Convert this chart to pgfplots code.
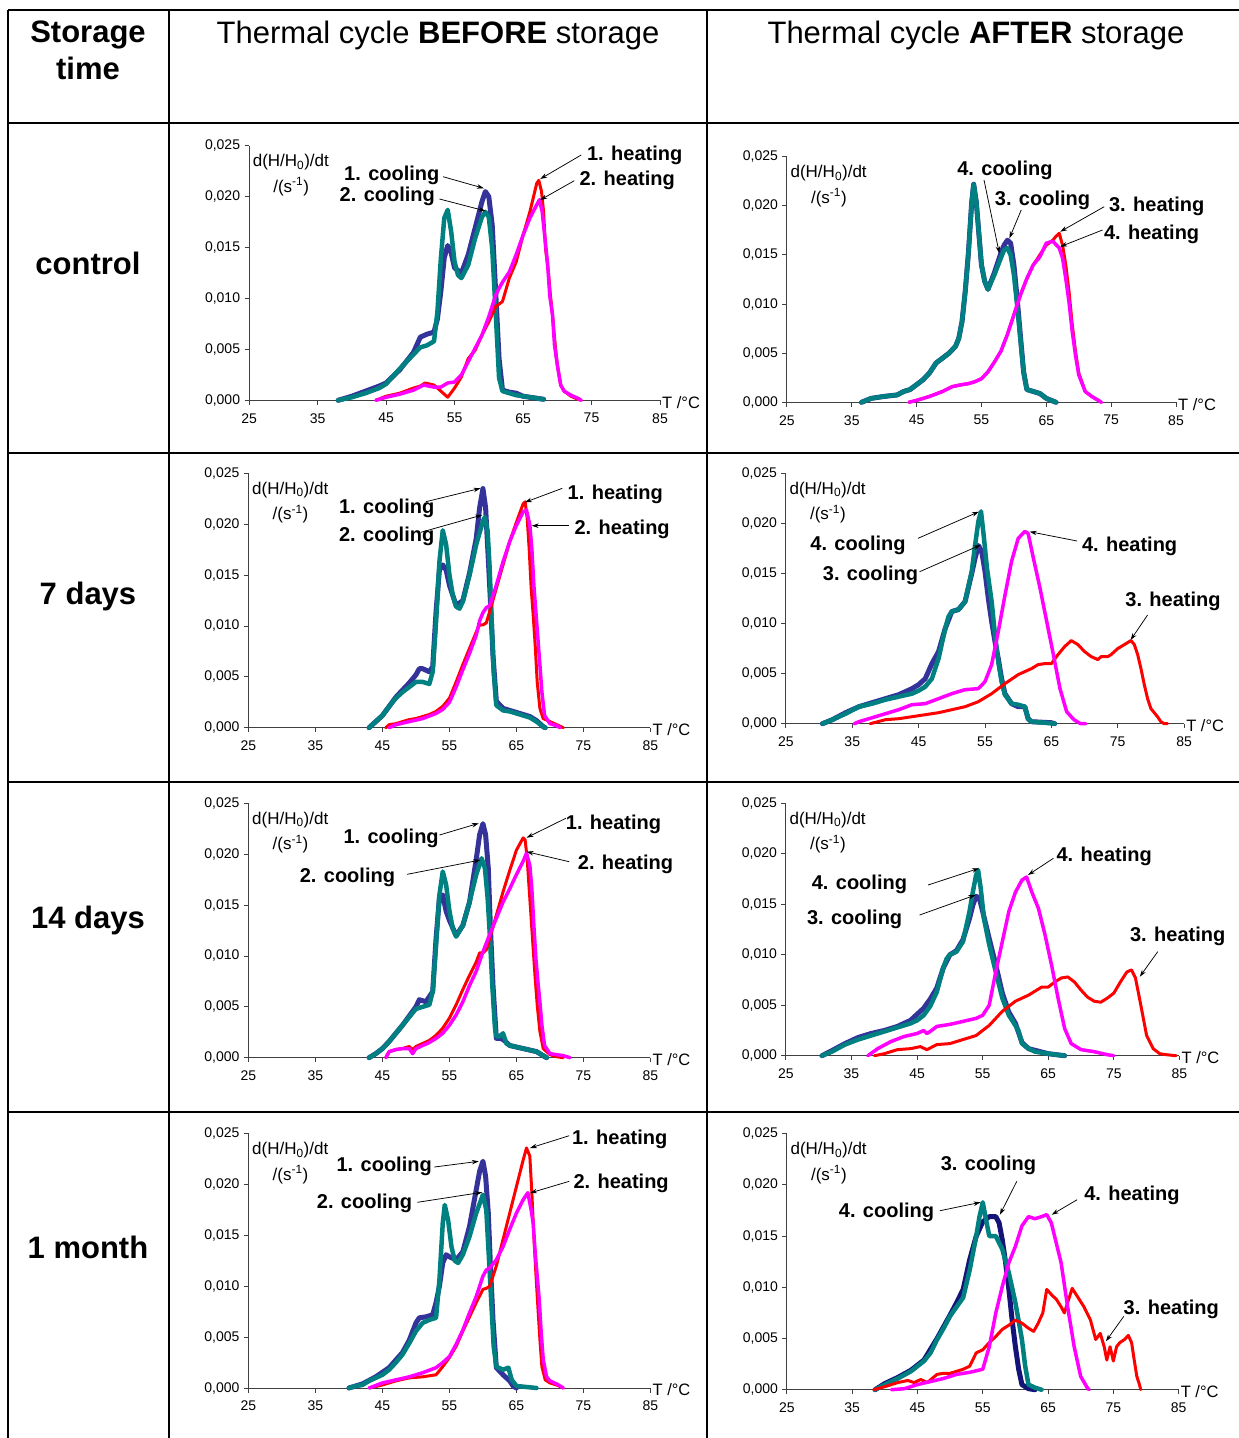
\documentclass[border=0pt]{standalone}
\usepackage{fontspec}
\setmainfont{Liberation Sans}
\usepackage{pgfplots}
\pgfplotsset{compat=1.18}
\usetikzlibrary{arrows.meta}
\definecolor{cblue}{RGB}{51,51,153}
\definecolor{cnavy}{RGB}{20,20,120}
\definecolor{cteal}{RGB}{0,128,128}
\definecolor{cred}{RGB}{255,0,0}
\definecolor{cmag}{RGB}{255,0,255}
\pgfplotsset{
  thermo/.style={
    scale only axis, anchor=south west, clip=false,
    xmin=25, xmax=85, ymin=0, ymax=0.025, enlargelimits=false,
    scaled y ticks=false, scaled x ticks=false,
    axis lines=left, axis line style={-, black!75, line width=0.9pt},
    xtick={25,35,45,55,65,75,85},
    xticklabels={25,35,45,55,65,75,85},
    ytick={0,0.005,0.01,0.015,0.02,0.025},
    yticklabels={{0,000},{0,005},{0,010},{0,015},{0,020},{0,025}},
    tick style={black!75, line width=0.9pt},
    major tick length=4.5pt, tick align=outside,
    tick label style={font=\fontsize{14}{16}\selectfont},
    xticklabel style={yshift=-5pt},
    yticklabel style={xshift=-1pt},
    every axis plot/.append style={no markers, line join=round, line cap=round},
  },
  c1/.style={cblue, line width=5pt},
  c1n/.style={cnavy, line width=5pt},
  c2/.style={cteal, line width=4.5pt},
  h1/.style={cred, line width=3pt},
  h2/.style={cmag, line width=3.5pt},
}
\newcommand{\labels}{%
  \node[anchor=west, inner sep=0pt, font=\fontsize{17}{19}\selectfont] at ([shift={(3.5pt,-16.5pt)}]rel axis cs:0,1) {d(H/H\textsubscript{0})/dt};
  \node[inner sep=0pt, font=\fontsize{17}{19}\selectfont] at ([shift={(42pt,-41pt)}]rel axis cs:0,1) {/(s\textsuperscript{-1})};
  \node[anchor=west, inner sep=0pt, font=\fontsize{16.5}{18}\selectfont] at ([shift={(2pt,-2pt)}]rel axis cs:1,0) {T /°C};
}
\newcommand{\ann}[3]{\node[font=\bfseries\fontsize{20}{24}\selectfont, inner sep=0pt] at (#1pt,-#2pt) {#3};}
\newcommand{\arr}[4]{\draw[-{Stealth[length=7pt,width=4.5pt]}, line width=0.75pt] (#1pt,-#2pt) -- (#3pt,-#4pt);}
\begin{document}
\begin{tikzpicture}
\path[use as bounding box] (0pt,0pt) rectangle (1239pt,-1438pt);
% ---- table grid
\begin{scope}[line width=1.5pt]
\draw (8pt,-10pt) -- (1239pt,-10pt);
\draw (8pt,-123pt) -- (1239pt,-123pt);
\draw (8pt,-453pt) -- (1239pt,-453pt);
\draw (8pt,-782pt) -- (1239pt,-782pt);
\draw (8pt,-1112pt) -- (1239pt,-1112pt);
\draw (8pt,-10pt) -- (8pt,-1438pt);
\draw (169pt,-10pt) -- (169pt,-1438pt);
\draw (707pt,-10pt) -- (707pt,-1438pt);
\end{scope}
% ---- headers
\node[anchor=base, font=\bfseries\fontsize{31}{36}\selectfont] at (88pt,-42pt) {Storage};
\node[anchor=base, font=\bfseries\fontsize{31}{36}\selectfont] at (88pt,-79pt) {time};
\node[anchor=base, font=\fontsize{31}{36}\selectfont] at (438pt,-43pt) {Thermal cycle \textbf{BEFORE} storage};
\node[anchor=base, font=\fontsize{31}{36}\selectfont] at (976pt,-43pt) {Thermal cycle \textbf{AFTER} storage};
\node[anchor=base, font=\bfseries\fontsize{31}{36}\selectfont] at (88pt,-274pt) {control};
\node[anchor=base, font=\bfseries\fontsize{31}{36}\selectfont] at (88pt,-604pt) {7 days};
\node[anchor=base, font=\bfseries\fontsize{31}{36}\selectfont] at (88pt,-928pt) {14 days};
\node[anchor=base, font=\bfseries\fontsize{31}{36}\selectfont] at (88pt,-1258pt) {1 month};

% ================= Plot 1: control, before
\begin{axis}[thermo, at={(249.1pt,-400.3pt)}, width=410.9pt, height=254.6pt]
\addplot[c1] coordinates {(38,0)(40,0.0004)(42,0.0009)(44,0.0014)(45,0.0017)(47,0.003)(49,0.0047)(50,0.0062)(51,0.0065)(52,0.0067)(52.5,0.008)(53,0.0107)(53.5,0.014)(54,0.0152)(54.5,0.0145)(55,0.013)(56,0.0125)(57,0.0143)(58,0.0169)(59,0.0195)(59.5,0.0205)(60,0.020)(60.5,0.0172)(61,0.0107)(61.5,0.0041)(62,0.001)(63,0.0008)(64,0.0007)(65,0.0004)(66,0.0003)(68,0.0001)};
\addplot[c2] coordinates {(38,0)(40,0.0003)(42,0.0007)(44,0.0012)(45,0.0016)(47,0.0031)(49,0.0045)(50,0.0052)(51,0.0054)(52,0.0058)(52.5,0.0087)(53,0.0139)(53.5,0.0179)(54,0.0187)(54.5,0.0166)(55,0.0136)(55.5,0.0123)(56,0.012)(57,0.0133)(58,0.0159)(59,0.018)(59.5,0.0185)(60,0.018)(60.5,0.0149)(61,0.0087)(61.5,0.0022)(62,0.0009)(63,0.0007)(64,0.0005)(65,0.0004)(66,0.0003)(68,0.0001)};
\addplot[h1] coordinates {(43.5,0)(45,0.0004)(47,0.0007)(49,0.0012)(50,0.0014)(50.7,0.0017)(52,0.0015)(53,0.0009)(54,0.0003)(55,0.0012)(56,0.0023)(57,0.0041)(58,0.0049)(59,0.0064)(60,0.0077)(61,0.0092)(62,0.0097)(63,0.012)(64,0.0136)(65,0.0162)(66,0.0185)(67,0.0213)(67.3,0.0216)(67.7,0.0205)(68,0.0185)(68.3,0.0148)(68.7,0.0126)(69,0.0103)(69.3,0.0084)(69.7,0.0054)(70,0.0035)(70.5,0.0015)(71,0.0009)(72,0.0004)(73,0.0001)(73.5,0)};
\addplot[h2] coordinates {(43.5,0)(45,0.0003)(47,0.0006)(49,0.001)(50.5,0.0015)(52,0.0013)(53,0.0013)(54,0.0017)(55,0.0018)(56,0.0025)(57,0.0038)(58,0.0051)(59,0.0064)(60,0.0082)(61,0.0103)(61.5,0.011)(62,0.0116)(63,0.0126)(64,0.0143)(65,0.0162)(66,0.0179)(67,0.0192)(67.4,0.0197)(67.8,0.0185)(68.2,0.0159)(68.6,0.0133)(68.9,0.0103)(69.3,0.0084)(69.6,0.0054)(70,0.0035)(70.5,0.0015)(71,0.0009)(72,0.0005)(73,0.0002)(73.5,0)};
\labels
\end{axis}

% ================= Plot 2: control, after
\begin{axis}[thermo, at={(786.9pt,-402.3pt)}, width=389.1pt, height=245.6pt]
\addplot[c1] coordinates {(36.5,0)(38,0.0004)(40,0.0006)(42,0.00075)(43,0.0011)(44,0.0013)(45,0.0018)(46,0.0023)(47,0.003)(48,0.004)(49,0.0045)(50,0.005)(51,0.0057)(51.5,0.0065)(52,0.0082)(52.5,0.0113)(53,0.0153)(53.5,0.0204)(53.8,0.0222)(54.2,0.0204)(54.5,0.018)(55,0.014)(55.5,0.0123)(56,0.0115)(57,0.0132)(58,0.0152)(58.5,0.016)(59,0.0165)(59.5,0.0162)(60,0.014)(60.5,0.0106)(61,0.0068)(61.5,0.0031)(62,0.0013)(63,0.0011)(64,0.0009)(65,0.0004)(66.5,0)};
\addplot[c2] coordinates {(36.5,0)(38,0.0004)(40,0.0006)(42,0.00075)(43,0.0011)(44,0.0013)(45,0.0018)(46,0.0023)(47,0.003)(48,0.004)(49,0.0045)(50,0.005)(51,0.0057)(51.5,0.0065)(52,0.0082)(52.5,0.0113)(53,0.0153)(53.5,0.0204)(53.8,0.0222)(54.2,0.0204)(54.5,0.018)(55,0.014)(55.5,0.0123)(56,0.0115)(57,0.013)(58,0.0147)(58.5,0.0155)(59,0.0157)(59.5,0.015)(60,0.013)(60.5,0.0099)(61,0.0065)(61.5,0.0031)(62,0.0013)(63,0.0011)(64,0.0009)(65,0.0004)(66.5,0)};
\addplot[h1] coordinates {(43.8,0)(45,0.0002)(47,0.0006)(49,0.0011)(50.5,0.0016)(52,0.0018)(53,0.0019)(54,0.0021)(55,0.0024)(56,0.0031)(57,0.0041)(58,0.0052)(59,0.0069)(60,0.0089)(61,0.0109)(62,0.0126)(63,0.014)(64,0.015)(65,0.016)(66,0.0165)(66.5,0.0169)(67,0.0172)(67.5,0.016)(68,0.014)(68.5,0.0113)(69,0.0079)(69.5,0.0052)(70,0.003)(71,0.0011)(72,0.0006)(73,0.0002)(73.5,0)};
\addplot[h2] coordinates {(43.8,0)(45,0.0002)(47,0.0006)(49,0.0011)(50.5,0.0016)(52,0.0018)(53,0.0019)(54,0.0021)(55,0.0024)(56,0.0031)(57,0.0041)(58,0.0052)(59,0.0069)(60,0.0089)(61,0.0109)(62,0.0126)(63,0.014)(64,0.0148)(65,0.0162)(66,0.0164)(67,0.0157)(67.5,0.0147)(68,0.0126)(68.5,0.0102)(69,0.0072)(69.5,0.0048)(70,0.0028)(71,0.0011)(72,0.0006)(73,0.0002)(73.5,0)};
\labels
\end{axis}

% ================= Plot 3: 7 days, before
\begin{axis}[thermo, at={(248.5pt,-727.7pt)}, width=401.9pt, height=254.4pt]
\addplot[c1] coordinates {(43,0)(44,0.0006)(45,0.0012)(46,0.0021)(47,0.003)(48,0.0037)(49,0.0044)(50,0.0052)(50.5,0.0058)(51,0.0058)(52,0.0055)(52.5,0.006)(53,0.0114)(53.5,0.0155)(54,0.016)(54.5,0.0155)(55,0.014)(56,0.012)(57,0.0125)(58,0.0152)(59,0.0186)(59.5,0.0216)(60,0.0235)(60.4,0.0216)(60.8,0.0166)(61.1,0.0127)(61.5,0.0071)(62,0.0026)(63,0.0019)(65,0.0015)(67,0.0011)(68,0.0007)(69,0.0001)(69.3,0)};
\addplot[c2] coordinates {(43,0)(44,0.0006)(45,0.0012)(46,0.0021)(47,0.0029)(48,0.0035)(49,0.004)(50,0.0045)(51,0.0045)(52,0.0043)(52.5,0.0055)(53,0.0104)(53.5,0.0163)(54,0.0194)(54.5,0.018)(55,0.015)(55.5,0.013)(56,0.0119)(56.5,0.0117)(57,0.0124)(58,0.015)(59,0.018)(60,0.0203)(60.3,0.0207)(60.7,0.0193)(61,0.0157)(61.3,0.0104)(61.6,0.0055)(62,0.0022)(63,0.0017)(64,0.0016)(65,0.0014)(66,0.0012)(67,0.001)(68,0.0006)(69,0.0001)(69.3,0)};
\addplot[h1] coordinates {(45.5,0)(46,0.0003)(47,0.0004)(48,0.0006)(49,0.0008)(50,0.0009)(51,0.0011)(52,0.0013)(53,0.0016)(54,0.0021)(55,0.0029)(56,0.0045)(57,0.0062)(58,0.0078)(59,0.0094)(59.5,0.0101)(60,0.0101)(60.5,0.0103)(61,0.0114)(62,0.0137)(63,0.016)(64,0.0183)(65,0.0202)(66,0.022)(66.3,0.0222)(66.6,0.0206)(66.9,0.0176)(67.2,0.0137)(67.5,0.0111)(67.8,0.0081)(68.1,0.0045)(68.5,0.0019)(69,0.0009)(70,0.0006)(71,0.0003)(72,0)};
\addplot[h2] coordinates {(46,0)(47,0.0003)(49,0.0006)(51,0.0009)(53,0.0014)(54,0.0018)(55,0.0025)(56,0.004)(57,0.0057)(58,0.0073)(59,0.0091)(59.5,0.0105)(60,0.0113)(60.5,0.0118)(61,0.012)(62,0.014)(63,0.0163)(64,0.0183)(65,0.0199)(66,0.0212)(66.5,0.0214)(67,0.0199)(67.3,0.0176)(67.6,0.014)(67.9,0.0114)(68.2,0.0088)(68.5,0.0062)(68.8,0.0035)(69.2,0.0012)(70,0.0004)(71,0.0002)(71.5,0)};
\labels
\end{axis}

% ================= Plot 4: 7 days, after
\begin{axis}[thermo, at={(785.9pt,-723.7pt)}, width=398.2pt, height=250.4pt]
\addplot[c1] coordinates {(30.5,0)(32,0.0004)(34,0.0011)(36,0.0017)(38,0.0021)(40,0.0025)(42,0.0029)(44,0.0035)(45,0.0039)(46,0.0045)(47,0.006)(48,0.0072)(49,0.0095)(50,0.0112)(51,0.0114)(52,0.0122)(53,0.015)(53.5,0.0165)(54,0.0178)(54.5,0.0172)(55,0.0152)(55.5,0.0125)(56,0.0102)(56.5,0.0082)(57,0.0065)(57.5,0.0045)(58,0.003)(59,0.002)(60,0.0017)(61,0.0017)(61.5,0.0005)(62,0.0002)(65,0.0001)(65.5,0)};
\addplot[c2] coordinates {(30.5,0)(32,0.0004)(34,0.001)(36,0.0017)(38,0.002)(40,0.0024)(42,0.0027)(44,0.003)(45,0.0033)(46,0.0037)(47,0.0045)(48,0.0065)(49,0.0095)(49.5,0.0107)(50,0.0112)(51,0.0114)(52,0.0122)(53,0.0152)(53.5,0.0178)(54,0.0202)(54.4,0.0212)(54.8,0.0188)(55.3,0.0155)(56,0.0122)(56.5,0.0089)(57,0.0062)(57.5,0.0042)(58,0.0029)(59,0.002)(60,0.0019)(61,0.0017)(61.5,0.0005)(62,0.0002)(64,0.0001)(65.5,0)};
\addplot[h1] coordinates {(37.7,0)(40,0.0004)(42,0.0005)(44,0.0007)(46,0.0009)(48,0.0011)(50,0.0014)(52,0.0017)(54,0.0022)(56,0.003)(58,0.004)(60,0.0049)(62,0.0055)(63,0.0059)(64,0.006)(65,0.006)(66,0.0069)(67,0.0077)(68,0.0083)(69,0.0079)(70,0.0072)(71,0.0067)(72,0.0064)(72.5,0.0067)(73.5,0.0067)(74,0.0069)(75,0.0075)(76,0.0079)(77,0.0083)(77.5,0.0079)(78,0.0069)(78.5,0.0055)(79,0.0039)(79.5,0.0025)(80,0.0015)(81,0.0007)(81.5,0.0002)(82,0)(82.5,0)};
\addplot[h2] coordinates {(35.3,0)(36,0.0002)(38,0.0006)(40,0.001)(42,0.0014)(44,0.0019)(46,0.002)(48,0.0025)(50,0.003)(52,0.0034)(54,0.0035)(55,0.0042)(56,0.0059)(57,0.0092)(58,0.0128)(59,0.0162)(60,0.0185)(61,0.0192)(61.5,0.019)(62.2,0.0168)(63.3,0.0135)(64.3,0.0102)(65.3,0.0069)(66.3,0.0035)(67.3,0.0012)(68.4,0.0004)(69.4,0)(70.2,0)};
\labels
\end{axis}

% ================= Plot 5: 14 days, before
\begin{axis}[thermo, at={(248.5pt,-1057.7pt)}, width=401.9pt, height=254.4pt]
\addplot[c1] coordinates {(43,0)(44,0.0004)(45,0.0009)(46,0.0016)(47,0.0024)(48,0.0032)(49,0.0041)(50,0.005)(50.5,0.0057)(51.5,0.0055)(52.5,0.0065)(53,0.0117)(53.5,0.0157)(54,0.016)(54.5,0.0144)(55,0.0135)(56,0.012)(57,0.013)(58,0.0153)(59,0.0195)(59.5,0.0219)(60,0.023)(60.4,0.0219)(60.8,0.0186)(61.1,0.013)(61.5,0.0071)(62,0.0019)(62.5,0.0019)(63,0.0018)(64,0.0012)(66,0.0009)(68,0.0006)(69,0.0002)(69.5,0)};
\addplot[c2] coordinates {(43,0)(44,0.0004)(45,0.0009)(46,0.0016)(47,0.0024)(48,0.0032)(49,0.004)(50,0.0048)(51,0.005)(52,0.0052)(52.5,0.0065)(53,0.0111)(53.5,0.016)(54,0.0183)(54.5,0.017)(55,0.0144)(55.5,0.0127)(56,0.0119)(57,0.013)(58,0.0153)(59,0.018)(59.8,0.0196)(60.3,0.0186)(60.7,0.0157)(61,0.0124)(61.4,0.0071)(61.8,0.0029)(62,0.0021)(62.5,0.0021)(63,0.0024)(63.5,0.0014)(64,0.0012)(66,0.0009)(68,0.0006)(69,0.0002)(69.5,0)};
\addplot[h1] coordinates {(45.5,0)(46,0.0006)(47,0.0008)(48,0.0009)(49,0.0011)(49.5,0.0008)(50,0.0011)(51,0.0014)(52,0.0017)(53,0.0022)(54,0.0029)(55,0.0039)(56,0.0052)(57,0.0067)(58,0.0081)(59,0.0094)(59.5,0.0103)(60,0.0103)(60.5,0.0106)(61,0.0117)(62,0.014)(63,0.0163)(64,0.0184)(65,0.0204)(66,0.0216)(66.3,0.0214)(66.6,0.0196)(66.9,0.0166)(67.2,0.0137)(67.5,0.0107)(67.8,0.0078)(68.1,0.0052)(68.5,0.0026)(69,0.0009)(70,0.0003)(71,0.0001)(72,0)};
\addplot[h2] coordinates {(45.5,0)(46,0.0006)(47,0.0008)(48,0.0009)(49,0.0009)(49.5,0.0004)(50,0.0009)(51,0.0012)(52,0.0015)(53,0.0019)(54,0.0024)(55,0.0032)(56,0.0042)(57,0.0055)(58,0.0071)(59,0.0085)(60,0.0104)(61,0.0121)(62,0.0137)(63,0.0153)(64,0.0166)(65,0.018)(66,0.0193)(66.5,0.0201)(67,0.0189)(67.3,0.0166)(67.6,0.013)(67.9,0.0098)(68.2,0.0075)(68.5,0.0055)(68.8,0.0032)(69.2,0.0012)(70,0.0004)(72,0.0002)(73,0)};
\labels
\end{axis}

% ================= Plot 6: 14 days, after
\begin{axis}[thermo, at={(785.9pt,-1055.7pt)}, width=393.5pt, height=252.4pt]
\addplot[c1] coordinates {(30.5,0)(32,0.0005)(34,0.0012)(36,0.0018)(38,0.0022)(40,0.0025)(42,0.0029)(44,0.0035)(46,0.0047)(47,0.0056)(48,0.0067)(49,0.0087)(50,0.01)(51,0.0104)(52,0.0115)(53,0.0136)(53.5,0.0149)(54,0.0158)(54.5,0.0156)(55,0.0143)(56,0.0116)(57,0.009)(58,0.0062)(59,0.0043)(60,0.0032)(61,0.0013)(62,0.0007)(65,0.0002)(67.5,0)};
\addplot[c2] coordinates {(30.5,0)(32,0.0004)(34,0.0011)(36,0.0016)(38,0.002)(40,0.0024)(42,0.0028)(44,0.0032)(45,0.0035)(46,0.004)(47,0.0049)(48,0.0063)(49,0.0087)(49.5,0.0096)(50,0.01)(51,0.0103)(52,0.0113)(53,0.0143)(53.5,0.0162)(54,0.0179)(54.3,0.0184)(54.7,0.0166)(55.2,0.0136)(56,0.011)(57,0.0083)(58,0.0057)(59,0.004)(60,0.003)(60.5,0.0024)(61,0.0012)(62,0.0007)(63,0.0004)(65,0.0002)(67.5,0)};
\addplot[h1] coordinates {(38.5,0)(40,0.0002)(42,0.0006)(44,0.0007)(45.5,0.0009)(46.5,0.0006)(48,0.0011)(50,0.0012)(52,0.0016)(54,0.002)(56,0.003)(58,0.0044)(60,0.0054)(62,0.006)(64,0.0068)(65,0.0068)(66,0.0073)(67,0.0077)(68,0.0078)(69,0.0073)(70,0.0065)(71,0.0058)(72,0.0054)(73,0.0053)(74,0.0057)(75,0.0062)(76,0.0073)(77,0.0083)(77.7,0.0085)(78.3,0.0077)(79,0.0054)(79.5,0.0037)(80,0.002)(81,0.0007)(82,0.0002)(83,0.0001)(84.5,0)};
\addplot[h2] coordinates {(37.5,0)(39,0.0007)(41,0.0014)(43,0.0019)(45,0.0022)(46,0.0025)(46.5,0.0022)(47,0.0024)(48,0.0029)(50,0.0031)(52,0.0034)(54,0.0037)(55,0.004)(56,0.005)(57,0.0083)(58,0.0113)(59,0.0143)(60,0.0162)(61,0.0174)(61.7,0.0177)(62.5,0.0162)(63.5,0.0146)(64.5,0.012)(65.5,0.009)(66.5,0.0057)(67.5,0.0027)(68.5,0.0012)(70,0.0006)(72,0.0004)(74,0.0001)(75,0)};
\labels
\end{axis}

% ================= Plot 7: 1 month, before
\begin{axis}[thermo, at={(248.5pt,-1388pt)}, width=401.9pt, height=254.3pt]
\addplot[c1] coordinates {(40,0)(42,0.0004)(44,0.0011)(46,0.002)(48,0.0035)(49,0.0047)(50,0.0064)(50.5,0.0069)(51.5,0.007)(52.5,0.0072)(53,0.0084)(53.5,0.01)(54,0.0123)(54.5,0.0131)(55,0.0129)(56,0.0126)(57,0.0134)(58,0.0159)(59,0.0195)(59.5,0.0213)(60,0.0223)(60.4,0.0208)(60.8,0.0172)(61.1,0.0123)(61.5,0.0067)(62,0.002)(63,0.0013)(64,0.0007)(64.5,0.0002)(65,0)};
\addplot[c2] coordinates {(40,0)(41,0.0002)(42,0.0003)(43,0.0007)(44,0.001)(45,0.0013)(46,0.0018)(47,0.0025)(48,0.0033)(49,0.0044)(50,0.0056)(51,0.0064)(52,0.0067)(53,0.0069)(53.5,0.0106)(54,0.0162)(54.3,0.018)(54.8,0.0165)(55.3,0.0139)(55.8,0.0125)(56.3,0.0123)(57,0.0131)(58,0.0149)(59,0.0172)(60,0.019)(60.5,0.0175)(60.8,0.0139)(61.2,0.009)(61.6,0.0041)(62,0.0021)(63,0.0018)(63.8,0.002)(64.3,0.0008)(65,0.0002)(68,0)};
\addplot[h1] coordinates {(43,0)(45,0.0003)(47,0.0007)(49,0.001)(51,0.0011)(53,0.0013)(54,0.0021)(55,0.003)(56,0.0041)(57,0.0056)(58,0.007)(59,0.0084)(60,0.0097)(60.5,0.0098)(61,0.01)(62,0.012)(63,0.0146)(64,0.0172)(65,0.0198)(66,0.0224)(66.5,0.0236)(67,0.0228)(67.3,0.0192)(67.6,0.0149)(67.9,0.0113)(68.2,0.008)(68.5,0.0048)(68.8,0.0021)(69.3,0.0008)(70,0.0005)(71,0.0003)(72,0)};
\addplot[h2] coordinates {(43,0)(45,0.0005)(47,0.0008)(49,0.0011)(51,0.0015)(53,0.002)(54,0.0025)(55,0.0031)(56,0.0043)(57,0.0057)(58,0.0074)(59,0.009)(60,0.011)(60.5,0.0116)(61,0.0118)(62,0.0126)(63,0.0139)(64,0.0156)(65,0.0172)(66,0.0185)(66.7,0.0192)(67.2,0.0175)(67.5,0.0162)(67.8,0.0133)(68.1,0.011)(68.4,0.0087)(68.7,0.0054)(69,0.0028)(69.5,0.0011)(70,0.0007)(71,0.0004)(72,0)};
\labels
\end{axis}

% ================= Plot 8: 1 month, after
\begin{axis}[thermo, at={(786.9pt,-1389.7pt)}, width=391.7pt, height=256pt]
\addplot[c1n] coordinates {(38.5,0)(40,0.0006)(42,0.0012)(44,0.0019)(46,0.0029)(48,0.005)(50,0.0073)(51,0.0085)(52,0.0098)(53,0.0127)(54,0.015)(55,0.0164)(56,0.0169)(57,0.0169)(57.5,0.0163)(58,0.0146)(58.5,0.0124)(59,0.0098)(59.5,0.0068)(60,0.0042)(60.5,0.002)(61,0.0005)(62,0.0001)(63,0)};
\addplot[c2] coordinates {(38.5,0)(40,0.0005)(42,0.0011)(44,0.0018)(46,0.0028)(47,0.0036)(48,0.0049)(49,0.006)(50,0.0072)(51,0.0081)(52,0.009)(53,0.0117)(54,0.015)(54.5,0.0169)(55,0.0183)(55.5,0.0166)(56,0.015)(57,0.015)(58,0.0137)(59,0.0114)(60,0.0085)(61,0.0049)(61.5,0.0023)(62,0.0005)(63,0.0002)(64,0)};
\addplot[h1] coordinates {(38.3,0)(40,0.0003)(42,0.0007)(43.5,0.0009)(44.5,0.0007)(45.5,0.001)(46.5,0.0007)(48,0.0015)(49,0.0016)(50,0.0016)(51,0.0018)(52,0.002)(53,0.0023)(54,0.0036)(55,0.0039)(56,0.0046)(57,0.0052)(58,0.0059)(59,0.0063)(60,0.0068)(61,0.0065)(62,0.006)(62.8,0.0057)(63.5,0.0065)(64.2,0.0075)(64.8,0.0098)(65.5,0.0093)(66.3,0.0088)(67,0.0081)(67.5,0.0075)(68,0.0085)(68.7,0.0099)(69.5,0.0091)(70.5,0.0081)(71.5,0.0068)(72.3,0.0049)(73,0.0055)(73.6,0.0042)(74,0.0029)(74.5,0.0042)(75,0.0028)(75.5,0.0042)(76,0.0046)(76.7,0.0049)(77.3,0.0053)(77.8,0.0046)(78.2,0.0029)(78.6,0.0013)(79,0.0005)(79.2,0)};
\addplot[h2] coordinates {(41,0)(43,0.0001)(45,0.0005)(47,0.0008)(49,0.0011)(51,0.0015)(53,0.0017)(55,0.002)(56,0.0042)(57,0.0075)(58,0.0101)(59,0.0124)(60,0.014)(61,0.016)(62,0.0169)(63,0.0167)(64,0.0169)(64.8,0.0171)(65.5,0.0163)(66,0.015)(67,0.0124)(68,0.0081)(69,0.0042)(70,0.0013)(71,0.0002)(71.3,0)};
\labels
\end{axis}

% ---- annotations
% plot 1
\ann{391.8}{175}{1. cooling}
\ann{387.3}{196.7}{2. cooling}
\arr{443.0}{176.7}{483.9}{188.3}
\arr{439.5}{199}{485.6}{211}
\ann{634.7}{155}{1. heating}
\ann{627.2}{180.7}{2. heating}
\arr{581.2}{155}{540.2}{179}
\arr{574.3}{180.7}{540.2}{200}
% plot 2
\ann{1004.9}{170.7}{4. cooling}
\ann{1042.5}{200}{3. cooling}
\ann{1156.7}{206}{3. heating}
\ann{1151.6}{234}{4. heating}
\arr{984.0}{180}{999.3}{253.3}
\arr{1021.2}{210}{1009.4}{238.3}
\arr{1104.2}{206.7}{1060.2}{231.7}
\arr{1102.5}{230}{1060.2}{246.7}
% plot 3
\ann{386.7}{508.3}{1. cooling}
\ann{386.7}{536.7}{2. cooling}
\ann{615.3}{494.3}{1. heating}
\ann{622.1}{529}{2. heating}
\arr{425.9}{501.7}{480.5}{488.3}
\arr{420.8}{532.3}{482.2}{515}
\arr{562.3}{488.3}{524.9}{502.3}
\arr{569.2}{525.7}{531.6}{525.7}
% plot 4
\ann{858.0}{545.7}{4. cooling}
\ann{870.5}{575}{3. cooling}
\ann{1129.6}{546.7}{4. heating}
\ann{1173.0}{601.7}{3. heating}
\arr{918.0}{538.3}{978.9}{511.7}
\arr{919.6}{571.7}{980.6}{545}
\arr{1077.1}{541}{1029.7}{531.7}
\arr{1147.6}{615}{1130.6}{640}
% plot 5
\ann{391.1}{838.3}{1. cooling}
\ann{347.4}{877.7}{2. cooling}
\ann{613.5}{824.3}{1. heating}
\ann{625.5}{864.3}{2. heating}
\arr{439.5}{835}{478.8}{823.3}
\arr{407.2}{874.3}{480.5}{860}
\arr{565.8}{818.3}{526.5}{837.7}
\arr{569.2}{861.7}{526.5}{851.7}
% plot 6
\ann{859.4}{884}{4. cooling}
\ann{854.6}{919}{3. cooling}
\ann{1104.2}{856.7}{4. heating}
\ann{1177.7}{936.7}{3. heating}
\arr{928.1}{885}{978.9}{868.3}
\arr{919.6}{915}{975.5}{895}
\arr{1053.4}{858.3}{1028.0}{875}
\arr{1157.7}{951.7}{1139.8}{976.7}
% plot 7
\ann{384.2}{1166.3}{1. cooling}
\ann{364.5}{1203.7}{2. cooling}
\ann{619.7}{1139}{1. heating}
\ann{621.1}{1183}{2. heating}
\arr{434.4}{1167}{478.8}{1161.3}
\arr{417.4}{1202.3}{482.2}{1192.3}
\arr{569.2}{1135.7}{530.0}{1148}
\arr{569.2}{1181.3}{530.0}{1193}
% plot 8
\ann{988.4}{1165.7}{3. cooling}
\ann{886.5}{1212}{4. cooling}
\ann{1131.9}{1195.7}{4. heating}
\ann{1171.3}{1309}{3. heating}
\arr{1016.8}{1181.3}{999.9}{1214.7}
\arr{939.9}{1210.7}{980.6}{1202.3}
\arr{1077.1}{1199.7}{1051.7}{1214.7}
\arr{1123.8}{1316.3}{1105.9}{1341.3}
\end{tikzpicture}
\end{document}
